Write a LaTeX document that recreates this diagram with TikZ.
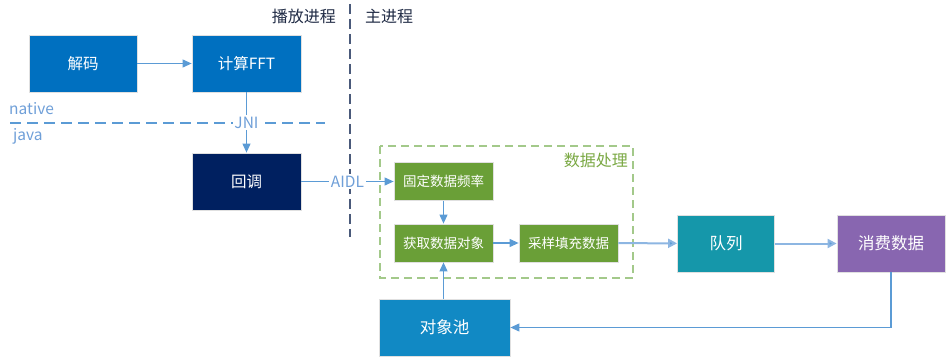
\documentclass[tikz,border=0pt]{standalone}
\usepackage{fontspec}
\setmainfont{Noto Sans CJK SC}
\usetikzlibrary{arrows.meta}
\definecolor{cblue}{HTML}{0070C0}
\definecolor{cnavy}{HTML}{002060}
\definecolor{cgreen}{HTML}{6A9F37}
\definecolor{cteal}{HTML}{1597AA}
\definecolor{cpurple}{HTML}{8866B0}
\definecolor{cpool}{HTML}{1189C4}
\definecolor{carrow}{HTML}{5B9BD5}
\definecolor{carrowl}{HTML}{8DB6E2}
\definecolor{cgdash}{HTML}{A3C98A}
\definecolor{cvdash}{HTML}{4A5A7A}
\definecolor{ctext}{HTML}{1F2A44}
\definecolor{cgtext}{HTML}{7AA843}
\definecolor{cbluetext}{HTML}{6F9FD8}
\tikzset{
  box/.style={draw=black!12, line width=0.8pt, text=white, inner sep=0pt, font=\fontsize{15.5}{17}\selectfont},
  gbox/.style={box, fill=cgreen, minimum width=99pt, minimum height=38pt, font=\fontsize{13.5}{15}\selectfont},
  arr/.style={draw=carrow, line width=1.1pt, -{Triangle[length=9pt,width=8pt]}},
  arrl/.style={draw=carrowl, line width=2pt, -{Triangle[length=9pt,width=9pt,fill=carrow]}},
  lbl/.style={fill=white, inner sep=1.5pt, text=cbluetext, font=\fontsize{15.5}{17}\selectfont},
}
\begin{document}
\begin{tikzpicture}[x=1pt,y=-1pt]
\useasboundingbox (0,0) rectangle (949,363);
% boxes
\node[box, fill=cblue, minimum width=108pt, minimum height=57pt] (decode) at (83,63.5) {解码};
\node[box, fill=cblue, minimum width=109pt, minimum height=57pt] (fft) at (246.5,63.5) {计算FFT};
\node[box, fill=cnavy, minimum width=109pt, minimum height=57pt] (cb) at (246.5,181.5) {回调};
\node[gbox] (fix) at (443.5,181.5) {固定数据频率};
\node[gbox] (get) at (443.5,243) {获取数据对象};
\node[gbox] (sample) at (568.5,243) {采样填充数据};
\node[box, fill=cteal, minimum width=97pt, minimum height=57pt, font=\fontsize{16.5}{18}\selectfont] (queue) at (726,243.5) {队列};
\node[box, fill=cpurple, minimum width=108pt, minimum height=57pt, font=\fontsize{16.5}{18}\selectfont] (consume) at (891,243.5) {消费数据};
\node[box, fill=cpool, minimum width=131pt, minimum height=57pt, font=\fontsize{16.5}{18}\selectfont] (pool) at (444.5,327.5) {对象池};
% group box
\draw[cgdash, line width=1.4pt, dash pattern=on 8pt off 5pt] (380,146) rectangle (633,278);
\node[anchor=east, text=cgtext, font=\fontsize{16}{18}\selectfont, inner sep=0pt] (grp) at (628,160) {数据处理};
% process divider
\draw[cvdash, line width=1.8pt, dash pattern=on 10pt off 5pt] (350,4) -- (350,237);
\node[anchor=east, text=ctext, font=\fontsize{16}{18}\selectfont, inner sep=0pt] (play) at (336,16) {播放进程};
\node[anchor=west, text=ctext, font=\fontsize{16}{18}\selectfont, inner sep=0pt] (main) at (365,16) {主进程};
% native/java divider
\draw[carrow, line width=1.4pt, dash pattern=on 11pt off 6pt] (10,123) -- (325,123);
\node[anchor=west, text=cbluetext, font=\fontsize{15.5}{17}\selectfont, inner sep=0pt] (native) at (9,109) {native};
\node[anchor=west, text=cbluetext, font=\fontsize{15.5}{17}\selectfont, inner sep=0pt] (java) at (13,136) {java};
% connectors
\draw[arr] (decode) -- (fft);
\draw[arr] (fft) -- node[lbl] (jni) {JNI} (cb);
\draw[arr] (cb) -- node[lbl, pos=0.5] (aidl) {AIDL} (fix);
\draw[arr] (fix) -- (get);
\draw[arr] (get) -- (sample);
\draw[arrl] (sample) -- (queue);
\draw[arrl] (queue) -- (consume);
\draw[arr] (consume.south) |- (pool.east);
\draw[arr] (get.south |- pool.north) -- (get.south);
\end{tikzpicture}
\end{document}
